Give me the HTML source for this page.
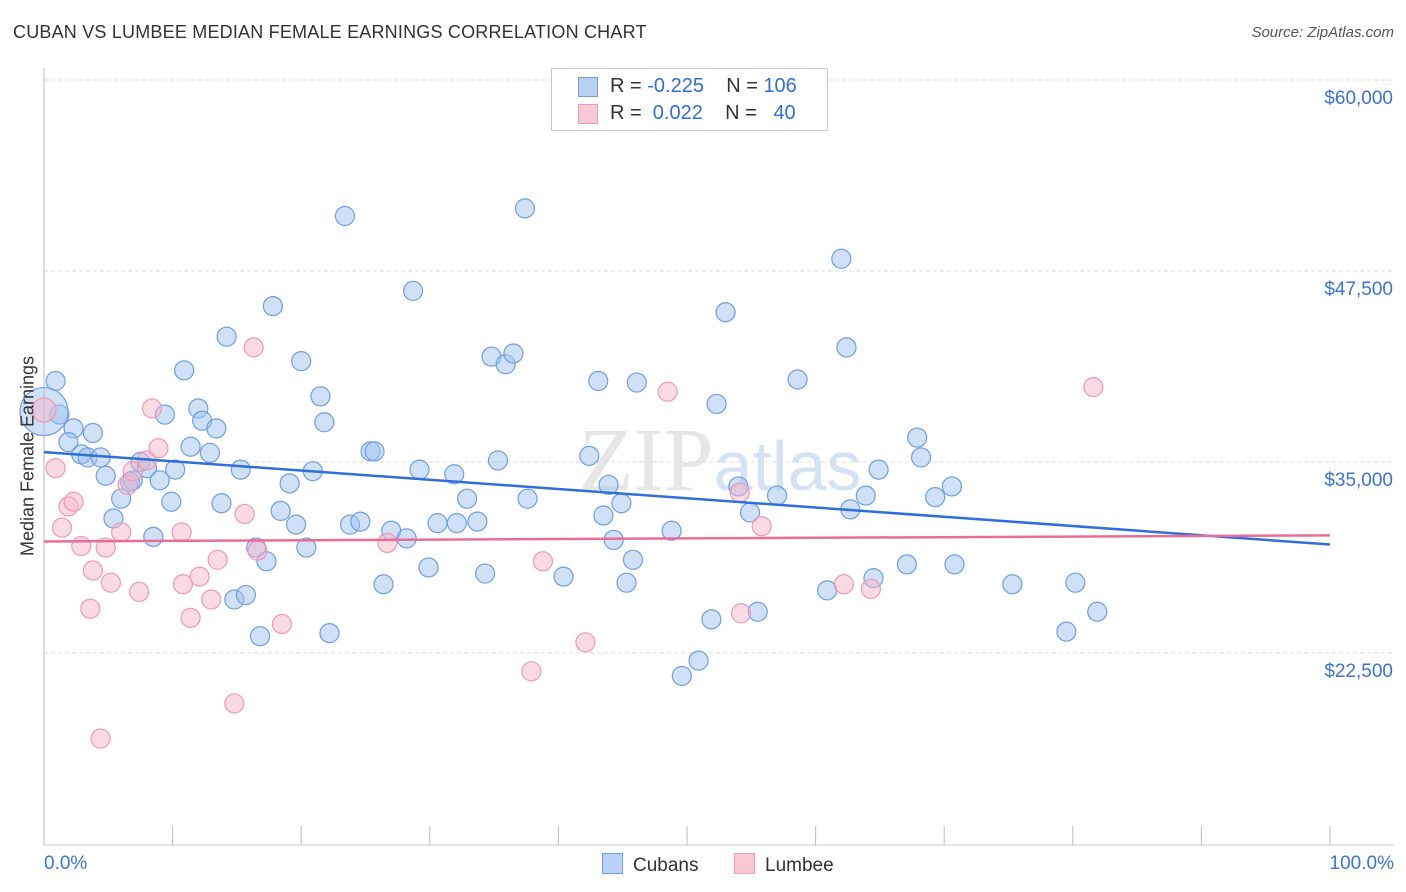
<!DOCTYPE html>
<html><head><meta charset="utf-8">
<style>
body{margin:0;background:#fff;font-family:"Liberation Sans",sans-serif;}
#wrap{position:relative;width:1406px;height:892px;overflow:hidden;}
.t{position:absolute;white-space:nowrap;}
</style></head>
<body><div id="wrap">
<div class="t" style="left:13px;top:22px;font-size:18px;color:#333;letter-spacing:0.2px">CUBAN VS LUMBEE MEDIAN FEMALE EARNINGS CORRELATION CHART</div>
<div class="t" style="right:12px;top:24px;font-size:15px;color:#555;font-style:italic">Source: ZipAtlas.com</div>
<svg id="svg" width="1406" height="892" style="position:absolute;left:0;top:0"></svg>
</div>
<script>
const yTicks=[60000,47500,35000,22500];
const yTickLabels=["$60,000","$47,500","$35,000","$22,500"];
const cubX=[0.9,1.2,2.3,1.9,3.8,2.9,3.4,4.4,4.8,6.0,5.4,6.7,6.9,7.5,8.0,9.0,9.4,10.2,9.9,8.5,10.9,11.4,12.0,12.3,12.9,13.4,14.2,13.8,15.3,14.8,15.7,16.5,17.3,16.8,17.8,18.4,19.1,19.6,20.0,20.4,20.9,21.5,21.8,22.2,23.4,23.8,24.6,25.4,25.7,26.4,27.0,28.2,28.7,29.2,29.9,30.6,31.9,32.1,32.9,33.7,34.3,34.8,35.9,36.5,35.3,37.4,37.6,40.4,42.4,43.1,43.5,43.9,44.3,44.9,45.3,45.8,46.1,48.8,49.6,50.9,51.9,52.3,53.0,54.0,54.9,55.5,57.0,58.6,60.9,62.0,62.4,62.7,63.9,64.5,64.9,67.1,67.9,68.2,69.3,70.6,70.8,75.3,79.5,80.2,81.9,0];
const cubY=[40.3,38.1,37.2,36.3,36.9,35.5,35.3,35.3,34.1,32.6,31.3,33.7,33.8,35.0,34.6,33.8,38.1,34.5,32.4,30.1,41.0,36.0,38.5,37.7,35.6,37.2,43.2,32.3,34.5,26.0,26.3,29.4,28.5,23.6,45.2,31.8,33.6,30.9,41.6,29.4,34.4,39.3,37.6,23.8,51.1,30.9,31.1,35.7,35.7,27.0,30.5,30.0,46.2,34.5,28.1,31.0,34.2,31.0,32.6,31.1,27.7,41.9,41.4,42.1,35.1,51.6,32.6,27.5,35.4,40.3,31.5,33.5,29.9,32.3,27.1,28.6,40.2,30.5,21.0,22.0,24.7,38.8,44.8,33.4,31.7,25.2,32.8,40.4,26.6,48.3,42.5,31.9,32.8,27.4,34.5,28.3,36.6,35.3,32.7,33.4,28.3,27.0,23.9,27.1,25.2,38.3];
const lumX=[0,0.9,1.4,1.9,2.3,2.9,3.6,3.8,4.4,4.8,5.2,6.0,6.5,6.9,7.4,8.0,8.4,8.9,10.7,10.8,11.4,12.1,13.0,13.5,14.8,15.6,16.3,16.6,18.5,26.7,37.9,38.8,42.1,48.5,54.1,54.2,55.8,62.2,64.3,81.6];
const lumY=[38.4,34.6,30.7,32.1,32.4,29.5,25.4,27.9,16.9,29.4,27.1,30.4,33.5,34.4,26.5,35.1,38.5,35.9,30.4,27.0,24.8,27.5,26.0,28.6,19.2,31.6,42.5,29.2,24.4,29.7,21.3,28.5,23.2,39.6,33.0,25.1,30.8,27.0,26.7,39.9];
const cubTrend=[35.65,29.6];
const lumTrend=[29.8,30.2];
const X0=44,X1=1330;
const xs=p=>X0+(X1-X0)*p/100;
const ys=v=>80+(60-v)*191/12.5;
const svg=document.getElementById('svg');
const NS='http://www.w3.org/2000/svg';
function mk(t,a){const e=document.createElementNS(NS,t);for(const k in a)e.setAttribute(k,a[k]);svg.appendChild(e);return e;}
// watermark
let wm=mk('text',{x:720,y:490,'text-anchor':'middle','font-size':'90','font-family':'Liberation Serif, serif',fill:'#e6e6e6'});


wm.innerHTML='ZIP<tspan font-family="Liberation Sans, sans-serif" font-size="70" fill="#d5e2f3">atlas</tspan>';
yTicks.forEach((v,i)=>{
 const y=ys(v/1000);
 let g=mk('line',{x1:44,x2:1394,y1:y,y2:y,stroke:'#ddd','stroke-dasharray':'4,3'});
 
 
 let t=mk('text',{x:1393,y:y+24,'text-anchor':'end','font-size':'19',fill:'#3b73d6'});
 
 
 t.textContent=yTickLabels[i];
});
let ax=mk('line',{x1:44,x2:44,y1:68,y2:845,stroke:'#bbb'});


let bx=mk('line',{x1:44,x2:1394,y1:845,y2:845,stroke:'#ccc'});


for(let i=0;i<=10;i++){let tk=mk('line',{x1:xs(i*10),x2:xs(i*10),y1:826,y2:845,stroke:'#bbb'});

}
function dots(X,Y,fill,stroke,name){X.forEach((x,i)=>{
 let r=9.5; if(x===0) r=name==='cuban-point'?24:12;
 let c=mk('circle',{cx:xs(x),cy:ys(Y[i]),r:r,fill:fill,stroke:stroke,'stroke-width':1.2});
 
 
});}
dots(cubX,cubY,'rgba(160,193,240,0.5)','#6f9fe2','cuban-point');
dots(lumX,lumY,'rgba(246,182,202,0.5)','#ee9ab6','lumbee-point');
let l1=mk('line',{x1:xs(0),x2:xs(100),y1:ys(cubTrend[0]),y2:ys(cubTrend[1]),stroke:'#2f6fd8','stroke-width':2.5});


let l2=mk('line',{x1:xs(0),x2:xs(100),y1:ys(lumTrend[0]),y2:ys(lumTrend[1]),stroke:'#e96d96','stroke-width':2.5});


</script>
<div class="t" style="left:551px;top:68px;width:275px;height:61px;border:1px solid #ccc;background:#fff">
 <div style="position:absolute;left:26px;top:8px;width:18px;height:18px;background:#b8d0f4;border:1px solid #6f9fe2"></div>
 <div style="position:absolute;left:26px;top:35px;width:18px;height:18px;background:#f8c8d6;border:1px solid #ee9ab6"></div>
 <div class="t" style="left:58px;top:6px;font-size:20px;color:#333">R = <span style="color:#2f6fd8">-0.225</span>&nbsp;&nbsp;&nbsp; N = <span style="color:#2f6fd8">106</span></div>
 <div class="t" style="left:58px;top:33px;font-size:20px;color:#333">R = &nbsp;<span style="color:#2f6fd8">0.022</span>&nbsp;&nbsp;&nbsp; N = &nbsp;&nbsp;<span style="color:#2f6fd8">40</span></div>
</div>
<div class="t" style="left:18px;top:456px;font-size:18px;color:#333;transform:translate(-50%,-50%) rotate(-90deg);transform-origin:center;margin-left:10px">Median Female Earnings</div>
<div class="t" style="left:44px;top:853px;font-size:19px;color:#3b73d6">0.0%</div>
<div class="t" style="right:12px;top:853px;font-size:19px;color:#3b73d6">100.0%</div>
<div class="t" style="left:602px;top:853px;font-size:19px;color:#333"><span style="display:inline-block;width:19px;height:19px;background:#b8d0f4;border:1px solid #6f9fe2;vertical-align:-3px;margin-right:10px"></span>Cubans</div>
<div class="t" style="left:734px;top:853px;font-size:19px;color:#333"><span style="display:inline-block;width:19px;height:19px;background:#f8c8d6;border:1px solid #ee9ab6;vertical-align:-3px;margin-right:10px"></span>Lumbee</div>
</body></html>
